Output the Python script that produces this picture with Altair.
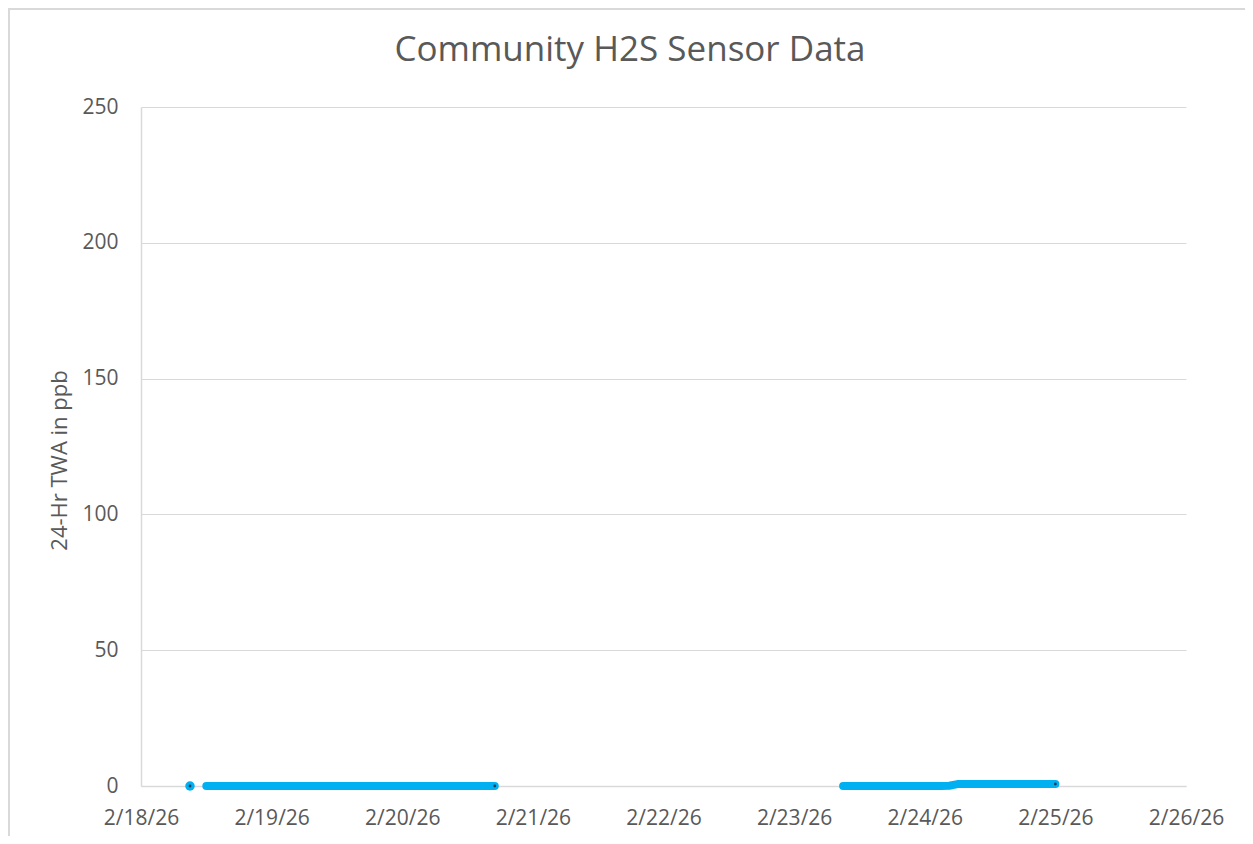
import altair as alt
import pandas as pd

# --- data ---
seg1_times = ["2026-02-18T09:00"]
seg1_values = [0.0]

seg2_times = ["2026-02-18T12:00", "2026-02-18T18:00", "2026-02-19T00:00", "2026-02-19T06:00",
              "2026-02-19T12:00", "2026-02-19T18:00", "2026-02-20T00:00", "2026-02-20T06:00",
              "2026-02-20T12:00", "2026-02-20T17:00"]
seg2_values = [0.0, 0.0, 0.0, 0.0, 0.0, 0.0, 0.0, 0.0, 0.0, 0.0]

seg3_times = ["2026-02-23T09:00", "2026-02-23T15:00", "2026-02-23T21:00", "2026-02-24T03:00",
              "2026-02-24T04:30", "2026-02-24T06:00", "2026-02-24T12:00", "2026-02-24T18:00",
              "2026-02-25T00:00"]
seg3_values = [0.0, 0.0, 0.0, 0.0, 0.1, 0.7, 0.7, 0.75, 0.75]

x_ticks = ["2026-02-18", "2026-02-19", "2026-02-20", "2026-02-21", "2026-02-22",
           "2026-02-23", "2026-02-24", "2026-02-25", "2026-02-26"]
y_ticks = [0, 50, 100, 150, 200, 250]
title_text = "Community H2S Sensor Data"
y_title = "24-Hr TWA in ppb"

rows = []
for seg, (ts, vs) in enumerate([(seg1_times, seg1_values), (seg2_times, seg2_values), (seg3_times, seg3_values)]):
    for i, (t, v) in enumerate(zip(ts, vs)):
        rows.append({"time": t, "value": v, "seg": seg, "last": i == len(ts) - 1})
df = pd.DataFrame(rows)

TEXT = "#595959"
GRID = "#d9d9d9"
BLUE = "#00b0f0"
FONT = "Open Sans"

W, H = 1045, 679

xscale = alt.Scale(domain=[pd.Timestamp("2026-02-18").isoformat(), pd.Timestamp("2026-02-26").isoformat()])
yscale = alt.Scale(domain=[0, 250], nice=False)

xaxis = alt.Axis(values=[pd.Timestamp(t).isoformat() for t in x_ticks], format="%-m/%-d/%y",
                 title=None, grid=False, ticks=False, labelPadding=21, labelFontSize=21,
                 labelColor=TEXT, labelFont=FONT, domainColor=GRID, domainWidth=1.5,
                 labelOverlap=False, labelFlush=False, labelBound=False)
yaxis = alt.Axis(values=y_ticks, title=y_title, ticks=False, labelPadding=23,
                 labelFontSize=21, labelColor=TEXT, labelFont=FONT, titleFont=FONT,
                 titleFontSize=22, titleColor=TEXT, titleFontWeight="normal", titlePadding=10,
                 titleY=353, titleAlign="center",
                 gridColor=GRID, gridWidth=1.2, domainColor=GRID, domainWidth=1.5)

base = alt.Chart(df)

frame = alt.Chart(pd.DataFrame({"a": [0]})).mark_rect(
    fill=None, stroke=GRID, strokeWidth=2, clip=False
).encode(x=alt.value(-132), x2=alt.value(W + 80), y=alt.value(-98), y2=alt.value(H + 80))

title = alt.Chart(pd.DataFrame({"t": [title_text]})).mark_text(
    font=FONT, fontSize=35, color=TEXT, align="center", baseline="middle", clip=False
).encode(text="t:N", x=alt.value(489), y=alt.value(-57))

line = base.mark_line(color=BLUE, strokeWidth=8, strokeCap="round", strokeJoin="round").encode(
    x=alt.X("time:T", scale=xscale, axis=xaxis),
    y=alt.Y("value:Q", scale=yscale, axis=yaxis),
    detail="seg:N",
)
pts = base.mark_circle(color=BLUE, size=90, opacity=1).encode(
    x="time:T", y="value:Q"
).transform_filter("datum.seg == 0")
ends = base.mark_circle(color="#1f3b5a", size=8, opacity=1).encode(
    x="time:T", y="value:Q"
).transform_filter("datum.last")

chart = alt.layer(frame, title, line, pts, ends).properties(
    width=W, height=H,
    autosize=alt.AutoSizeParams(type="none"),
    padding={"left": 133, "top": 99, "right": 59, "bottom": 50},
).configure(background="white").configure_view(stroke=None)

chart.save("out.html", embed_options={"renderer": "svg", "actions": False})
